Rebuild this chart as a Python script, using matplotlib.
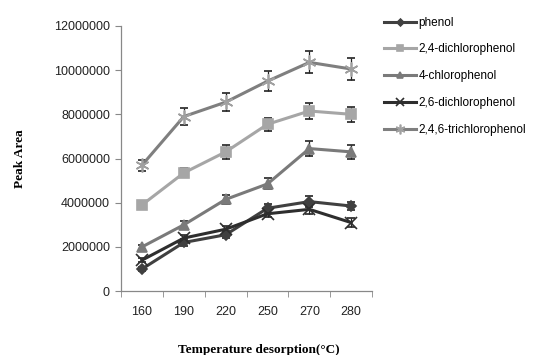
import matplotlib
matplotlib.use("Agg")
import matplotlib.pyplot as plt
import numpy as np

temps = ["160", "190", "220", "250", "270", "280"]

phenol = [1000000, 2200000, 2550000, 3750000, 4050000, 3850000]
phenol_err = [100000, 150000, 150000, 200000, 250000, 200000]
dcp24 = [3900000, 5350000, 6300000, 7550000, 8150000, 8000000]
dcp24_err = [100000, 200000, 300000, 300000, 350000, 350000]
cp4 = [2000000, 3000000, 4150000, 4850000, 6450000, 6300000]
cp4_err = [100000, 150000, 200000, 250000, 350000, 300000]
dcp26 = [1400000, 2400000, 2800000, 3500000, 3700000, 3100000]
dcp26_err = [100000, 150000, 150000, 150000, 200000, 200000]
tcp246 = [5700000, 7900000, 8550000, 9500000, 10350000, 10050000]
tcp246_err = [250000, 400000, 400000, 450000, 500000, 500000]

fig = plt.figure(figsize=(5.48, 3.55), dpi=100)
ax = fig.add_axes([0.221, 0.180, 0.458, 0.747])

x = np.arange(len(temps))
series = [
    ("phenol", phenol, phenol_err, "#404040", "#404040", "D", 5),
    ("2,4-dichlorophenol", dcp24, dcp24_err, "#a6a6a6", "#a6a6a6", "s", 7),
    ("4-chlorophenol", cp4, cp4_err, "#7a7a7a", "#7a7a7a", "^", 7),
    ("2,6-dichlorophenol", dcp26, dcp26_err, "#2e2e2e", "#2e2e2e", "x", 8),
    ("2,4,6-trichlorophenol", tcp246, tcp246_err, "#7f7f7f", "#a0a0a0", (6, 2, 0), 10),
]
handles = []
names = []
for name, vals, err, c, mc, m, ms in series:
    cont = ax.errorbar(x, vals, yerr=err, color=c, lw=2.2, marker=m, ms=ms,
                       mfc=mc, mec=mc, mew=1.2, ecolor="#222222", elinewidth=0.9,
                       capsize=3, capthick=0.9)
    handles.append(cont[0])
    names.append(name)

ax.set_xlim(-0.5, len(temps) - 0.5)
ax.set_ylim(0, 12000000)
ax.set_yticks(np.arange(0, 12000001, 2000000))
ax.set_yticklabels([str(int(v)) for v in np.arange(0, 12000001, 2000000)])
ax.set_xticks(x)
ax.set_xticklabels(temps)
ax.set_xticks(np.arange(-0.5, len(temps), 1.0), minor=True)
ax.tick_params(axis="x", which="major", length=0, pad=11)
ax.tick_params(axis="x", which="minor", length=4, color="#888888")
ax.tick_params(axis="y", length=4, color="#888888", pad=4)
for lab in ax.get_xticklabels() + ax.get_yticklabels():
    lab.set_fontfamily("Liberation Sans")
    lab.set_fontsize(9)
    lab.set_color("#222222")

for s in ["top", "right"]:
    ax.spines[s].set_visible(False)
for s in ["left", "bottom"]:
    ax.spines[s].set_color("#888888")
    ax.spines[s].set_linewidth(0.9)

ax.set_xlabel("Temperature desorption(\u00b0C)", fontfamily="Liberation Serif",
              fontweight="bold", fontsize=9.5)
ax.xaxis.set_label_coords(0.55, -0.2)
ax.set_ylabel("Peak Area", fontfamily="Liberation Serif", fontweight="bold",
              fontsize=9.5)
ax.yaxis.set_label_coords(-0.38, 0.5)

leg = ax.legend(handles, names, loc="upper left", bbox_to_anchor=(1.005, 1.075),
                frameon=False, prop={"family": "Liberation Sans", "size": 8.5},
                handlelength=2.7, handletextpad=0.2, labelspacing=1.25,
                markerscale=0.7)

fig.savefig("out.png", dpi=100)
